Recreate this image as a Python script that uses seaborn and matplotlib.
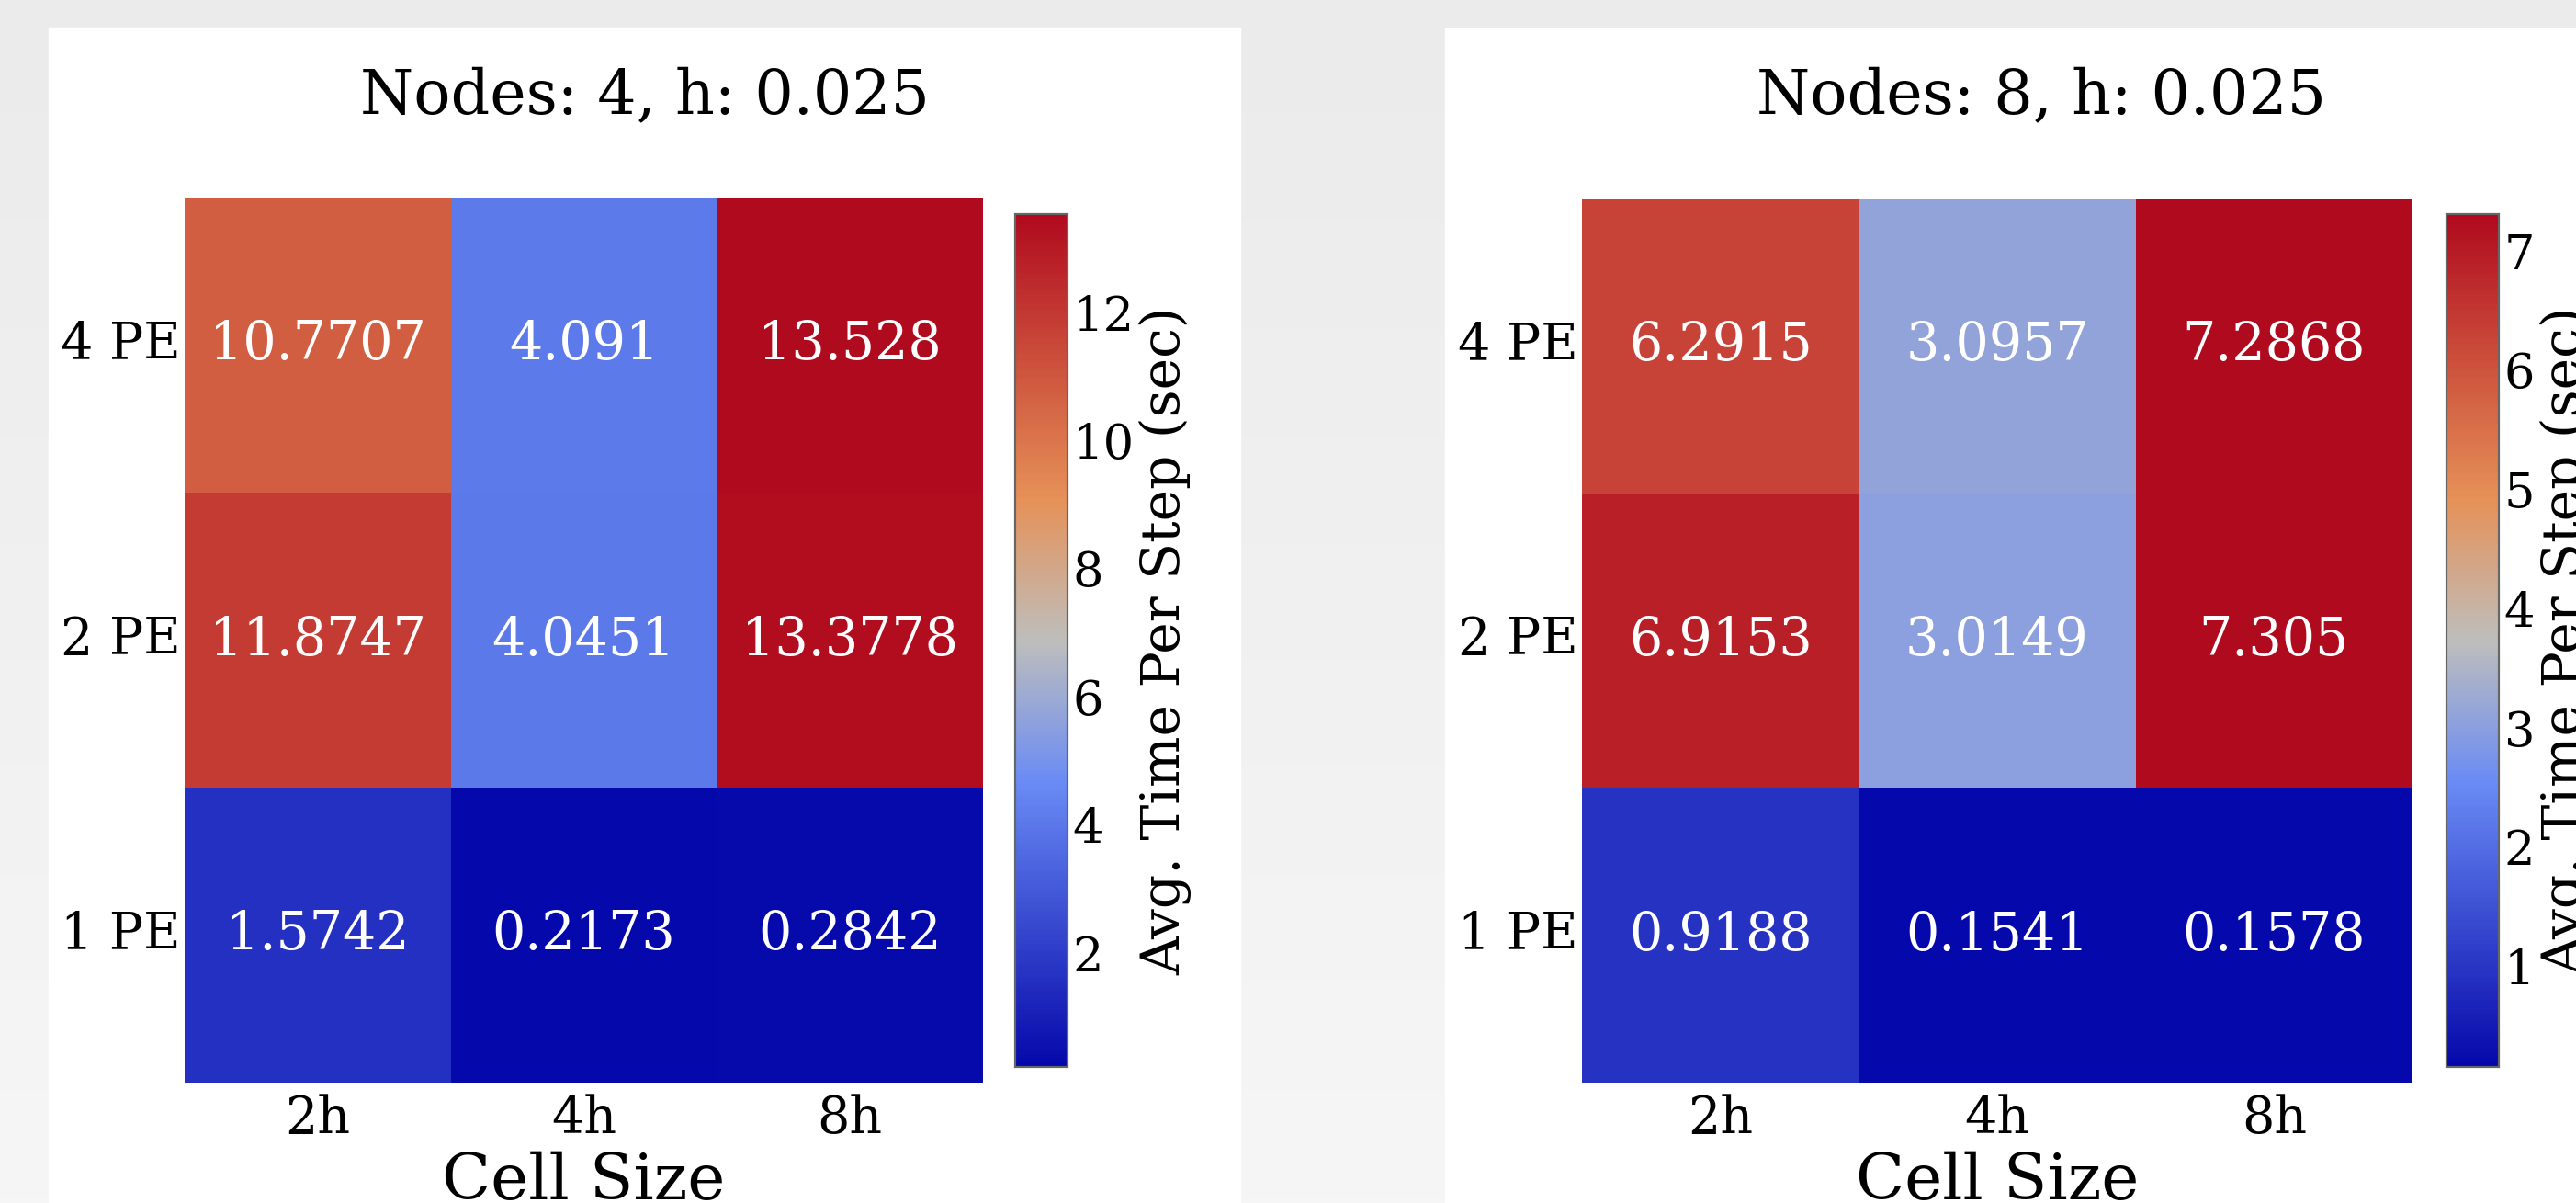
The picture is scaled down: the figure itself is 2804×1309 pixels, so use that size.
import numpy as np
import pandas as pd
import seaborn as sns
import matplotlib.pyplot as plt
from matplotlib.colors import LinearSegmentedColormap
from matplotlib.patches import Rectangle

# dados
pes = ["4 PE", "2 PE", "1 PE"]
cells = ["2h", "4h", "8h"]
nodes = [4, 8]
h = 0.025
tempo_4 = [
    [10.7707, 4.091, 13.528],
    [11.8747, 4.0451, 13.3778],
    [1.5742, 0.2173, 0.2842],
]
tempo_8 = [
    [6.2915, 3.0957, 7.2868],
    [6.9153, 3.0149, 7.305],
    [0.9188, 0.1541, 0.1578],
]

# mapa de cores: azul escuro -> azul claro -> cinza -> laranja -> vermelho
cores = ["#0508aa", "#6a8bf5", "#bebebc", "#e69158", "#b00a1e"]
posicoes = [0.0, 1 / 3, 0.5, 2 / 3, 1.0]
cmap = LinearSegmentedColormap.from_list("tempo", list(zip(posicoes, cores)))

plt.rcParams["font.family"] = "DejaVu Serif"

W, H = 2804, 1309
fig = plt.figure(figsize=(W / 100, H / 100), dpi=100)


def caixa(x0, y0, x1, y1):
    # pixels (topo-esquerda) -> fracao da figura
    return [x0 / W, 1 - y1 / H, (x1 - x0) / W, (y1 - y0) / H]


# fundo cinza da captura com os dois paineis brancos
fundo = fig.add_axes([0, 0, 1, 1], zorder=-5)
grad = np.linspace(0, 1, 256)[:, None]
fundo.imshow(
    grad,
    cmap=LinearSegmentedColormap.from_list("bg", ["#ebebeb", "#f6f6f6"]),
    aspect="auto",
    extent=[0, W, H, 0],
)
fundo.add_patch(Rectangle((53, 30), 1297, 1300, color="white"))
fundo.add_patch(Rectangle((1573, 31), 1297, 1300, color="white"))
fundo.set_xlim(0, W)
fundo.set_ylim(H, 0)
fundo.axis("off")

inicio = [53, 1573]
pos_ax = [(201, 215, 1070, 1178), (1722, 216, 2626, 1178)]
pos_cb = [(1105, 233, 1162, 1161), (2663, 233, 2720, 1161)]

for n, dados, x0, pa, pc in zip(nodes, [tempo_4, tempo_8], inicio, pos_ax, pos_cb):
    df = pd.DataFrame(dados, index=pes, columns=cells)
    ax = fig.add_axes(caixa(*pa))
    cax = fig.add_axes(caixa(*pc))
    sns.heatmap(
        df,
        ax=ax,
        cbar_ax=cax,
        cmap=cmap,
        annot=True,
        fmt="g",
        annot_kws={"size": 41, "color": "white"},
    )
    ax.tick_params(length=0, labelsize=40)
    ax.tick_params(axis="x", pad=9)
    ax.tick_params(axis="y", pad=3, rotation=0)
    ax.set_ylabel("")
    ax.set_xlabel("Cell Size", fontsize=50)
    ax.xaxis.set_label_coords(0.5, -0.078)

    cax.tick_params(length=0, labelsize=38, pad=4)
    cax.set_ylabel("Avg. Time Per Step (sec)", fontsize=42, labelpad=4)
    for s in cax.spines.values():
        s.set_visible(True)
        s.set_color("#666666")
        s.set_linewidth(1.5)

    fig.text(
        (x0 + 1297 / 2) / W,
        1 - 123 / H,
        f"Nodes: {n}, h: {h}",
        ha="center",
        va="baseline",
        fontsize=48,
    )

fig.savefig("out.png", dpi=100)
